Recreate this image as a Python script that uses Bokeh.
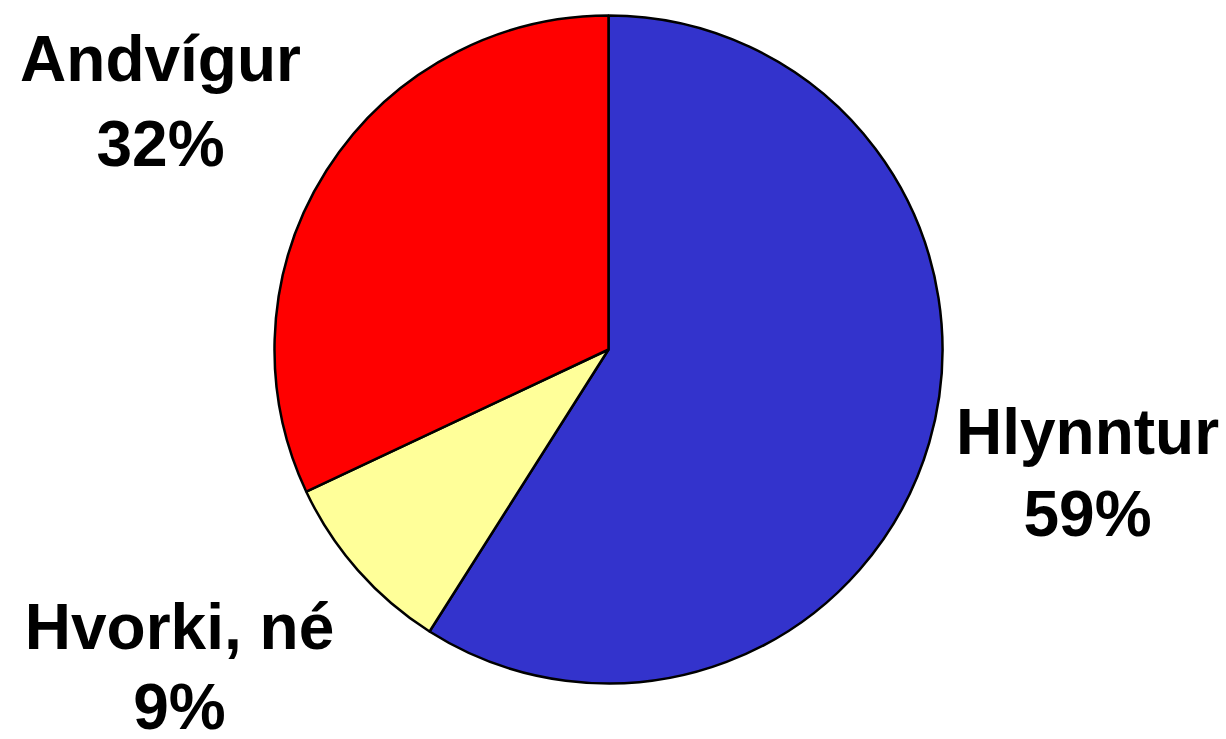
import numpy as np
from bokeh.plotting import figure
from bokeh.models import Range1d, ColumnDataSource
from bokeh.core.properties import value
from bokeh.embed import file_html
from bokeh.resources import INLINE

# ---- data ----
categories = ["Hlynntur", "Hvorki, né", "Andvígur"]
shares = [59, 9, 32]
slice_colors = ["#3333CC", "#FFFF99", "#FF0000"]

# ---- layout (pixel-like data space) ----
W, H = 1226, 739
cx, cy, r = 608, 390, 334
label_x = [1087, 179, 160]
name_y = [308, 113, 681]
pct_y = [226, 33, 596]

vals = np.array(shares, dtype=float)
frac = vals / vals.sum()
cum = np.concatenate([[0.0], np.cumsum(frac)])
start = np.pi / 2 - 2 * np.pi * cum[:-1]
end = np.pi / 2 - 2 * np.pi * cum[1:]

src = ColumnDataSource(dict(
    cat=categories, start=start, end=end, color=slice_colors,
    lx=label_x, ny=name_y, py=pct_y,
    pct=[f"{s}%" for s in shares],
))

p = figure(width=W, height=H, output_backend="svg", toolbar_location=None,
           x_range=Range1d(0, W), y_range=Range1d(0, H), min_border=0)
p.axis.visible = False
p.grid.visible = False
p.outline_line_color = None
p.background_fill_color = "white"
p.border_fill_color = "white"

p.wedge(x=cx, y=cy, radius=r, start_angle="start", end_angle="end",
        direction="clock", fill_color="color", line_color="black",
        line_width=2.5, source=src)

common = dict(text_font=value("Liberation Sans"), text_font_style="bold",
              text_font_size="64px", text_align="center",
              text_baseline="alphabetic", text_color="black")
p.text(x="lx", y="ny", text="cat", source=src, **common)
p.text(x="lx", y="py", text="pct", source=src, **common)

open("out.html", "w").write(file_html(p, INLINE))
